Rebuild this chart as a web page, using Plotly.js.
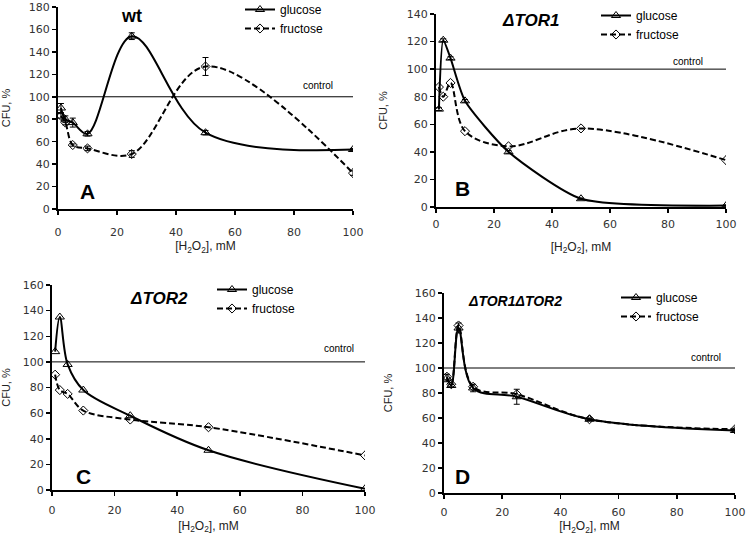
<!DOCTYPE html>
<html><head><meta charset="utf-8">
<script src="https://cdn.plot.ly/plotly-3.0.1.min.js"></script>
<style>html,body{margin:0;padding:0;background:#fff}</style>
</head><body><div id="chart" style="width:746px;height:536px"></div>
<script>
// H2O2 concentrations, mM
const conc = [1, 2.5, 5, 10, 25, 50, 100];
const controlLevel = 100;

// Panel A: wt
const wtGlucose = [90, 80, 77, 67, 154, 68, 53];
const wtGlucoseErr = [4, 3, 4, 2, 3, 2, 1];
const wtFructose = [83, 77, 57, 54, 49, 127, 32];
const wtFructoseErr = [2, 2, 1, 2, 3, 8, 2];

// Panel B: ΔTOR1
const tor1Glucose = [71, 121, 108, 77, 40, 6, 1];
const tor1GlucoseErr = [1, 1, 1, 1, 1, 0.5, 0.5];
const tor1Fructose = [87, 80, 90, 55, 44, 57, 34];

// Panel C: ΔTOR2
const tor2Glucose = [108, 135, 98, 78, 58, 31, 1];
const tor2Fructose = [90, 78, 75, 62, 55, 49, 27];

// Panel D: ΔTOR1ΔTOR2
const dblGlucose = [92, 86, 132, 84, 77, 59, 50];
const dblGlucoseErr = [3, 1, 4, 3, 6, 1, 1];
const dblFructose = [93, 87, 134, 85, 79, 59, 51];

const panelTitles = ['wt', 'ΔTOR1', 'ΔTOR2', 'ΔTOR1ΔTOR2'];
const panelLetters = ['A', 'B', 'C', 'D'];
const xTicks = [0, 20, 40, 60, 80, 100];

const FONT = 'Liberation Sans, Arial, sans-serif';
const W = 746, H = 536;
const px = v => v / W, py = v => 1 - v / H;

function gl(xa, ya, y, err, leg, smooth) {
  const t = {x: conc, y: y, xaxis: xa, yaxis: ya, mode: 'lines+markers', name: 'glucose',
    legend: leg, showlegend: true,
    line: {color: '#000', width: 2, shape: 'spline', smoothing: smooth || 1},
    marker: {symbol: 'triangle-up-open', size: 8, color: '#000', line: {width: 1}}};
  if (err) t.error_y = {type: 'data', array: err, visible: true, color: '#000', thickness: 1, width: 3};
  return t;
}
function fr(xa, ya, y, err, leg) {
  const t = {x: conc, y: y, xaxis: xa, yaxis: ya, mode: 'lines+markers', name: 'fructose',
    legend: leg, showlegend: true,
    line: {color: '#000', width: 2, dash: '6px,3px', shape: 'spline', smoothing: 1},
    marker: {symbol: 'diamond-open', size: 7, color: '#000', line: {width: 1}}};
  if (err) t.error_y = {type: 'data', array: err, visible: true, color: '#000', thickness: 1, width: 3};
  return t;
}
function ctrl(xa, ya) {
  return {x: [0, 100], y: [controlLevel, controlLevel], xaxis: xa, yaxis: ya, mode: 'lines',
    showlegend: false, hoverinfo: 'skip', line: {color: '#000', width: 1}};
}

const data = [
  ctrl('x', 'y'), fr('x', 'y', wtFructose, wtFructoseErr, 'legend'), gl('x', 'y', wtGlucose, wtGlucoseErr, 'legend'),
  ctrl('x2', 'y2'), fr('x2', 'y2', tor1Fructose, null, 'legend2'), gl('x2', 'y2', tor1Glucose, tor1GlucoseErr, 'legend2', 0.6),
  ctrl('x3', 'y3'), fr('x3', 'y3', tor2Fructose, null, 'legend3'), gl('x3', 'y3', tor2Glucose, null, 'legend3'),
  ctrl('x4', 'y4'), fr('x4', 'y4', dblFructose, null, 'legend4'), gl('x4', 'y4', dblGlucose, dblGlucoseErr, 'legend4')
];

function xax(dom, anchor, tls, so) {
  return {domain: dom, anchor: anchor, range: [0, 100], tickvals: xTicks, ticks: 'outside', ticklen: 4,
    tickwidth: 1.5, tickcolor: '#000', showline: true, linecolor: '#000', linewidth: 2, showgrid: false,
    zeroline: false, automargin: false, ticklabeloverflow: 'allow', ticklabelstandoff: tls,
    tickfont: {family: 'DejaVu Sans', size: 11, color: '#333'},
    title: {text: '[H<sub>2</sub>O<sub>2</sub>], mM', font: {family: FONT, size: 12, color: '#222'}, standoff: so}};
}
function yax(dom, anchor, max, so) {
  return {domain: dom, anchor: anchor, range: [0, max], dtick: 20, ticks: 'outside', ticklen: 4,
    tickwidth: 1.5, tickcolor: '#000', showline: true, linecolor: '#000', linewidth: 2, showgrid: false,
    zeroline: false, automargin: false, ticklabeloverflow: 'allow',
    tickfont: {family: 'DejaVu Sans', size: 11, color: '#333'},
    title: {text: 'CFU, %', font: {family: FONT, size: 11, color: '#222'}, standoff: so}};
}
function legend(x, y) {
  return {x: x, y: y, xanchor: 'left', yanchor: 'top', bgcolor: 'rgba(0,0,0,0)', borderwidth: 0,
    font: {family: FONT, size: 12, color: '#000'}, traceorder: 'reversed', itemwidth: 30, tracegroupgap: 0};
}
function ann(text, x, y, size, opts) {
  return Object.assign({text: text, x: px(x), y: py(y), xref: 'paper', yref: 'paper', showarrow: false,
    xanchor: 'center', yanchor: 'middle', font: {family: FONT, size: size, color: '#000'}}, opts || {});
}

const layout = {
  width: W, height: H, autosize: false, margin: {l: 0, r: 0, t: 0, b: 0, autoexpand: false},
  paper_bgcolor: '#fff', plot_bgcolor: '#fff',
  xaxis: xax([px(58), px(353)], 'y', 8, 3), yaxis: yax([py(209), py(7)], 'x', 180, 16),
  xaxis2: xax([px(436), px(726)], 'y2', 2, 12), yaxis2: yax([py(207), py(14)], 'x2', 140, 17),
  xaxis3: xax([px(52), px(365)], 'y3', 5, 5), yaxis3: yax([py(490), py(285)], 'x3', 160, 12),
  xaxis4: xax([px(444), px(735)], 'y4', 4, 2), yaxis4: yax([py(493), py(293)], 'x4', 160, 20),
  legend: legend(px(240), py(-5)),
  legend2: legend(px(596), py(1)),
  legend3: legend(px(212), py(275)),
  legend4: legend(px(616), py(283)),
  annotations: [
    ann('<b>' + panelTitles[0] + '</b>', 131, 16, 18),
    ann('<b><i>' + panelTitles[1] + '</i></b>', 530, 20, 17),
    ann('<b><i>' + panelTitles[2] + '</i></b>', 159, 298, 17),
    ann('<b><i>' + panelTitles[3] + '</i></b>', 515, 301, 14),
    ann('<b>' + panelLetters[0] + '</b>', 87, 191, 21),
    ann('<b>' + panelLetters[1] + '</b>', 462, 188, 21),
    ann('<b>' + panelLetters[2] + '</b>', 83, 476, 21),
    ann('<b>' + panelLetters[3] + '</b>', 462, 476, 21),
    ann('control', 318, 85, 10),
    ann('control', 688, 61, 10),
    ann('control', 339, 348, 10),
    ann('control', 706, 357, 10)
  ]
};

Plotly.newPlot('chart', data, layout, {staticPlot: true, displayModeBar: false});
</script></body></html>
